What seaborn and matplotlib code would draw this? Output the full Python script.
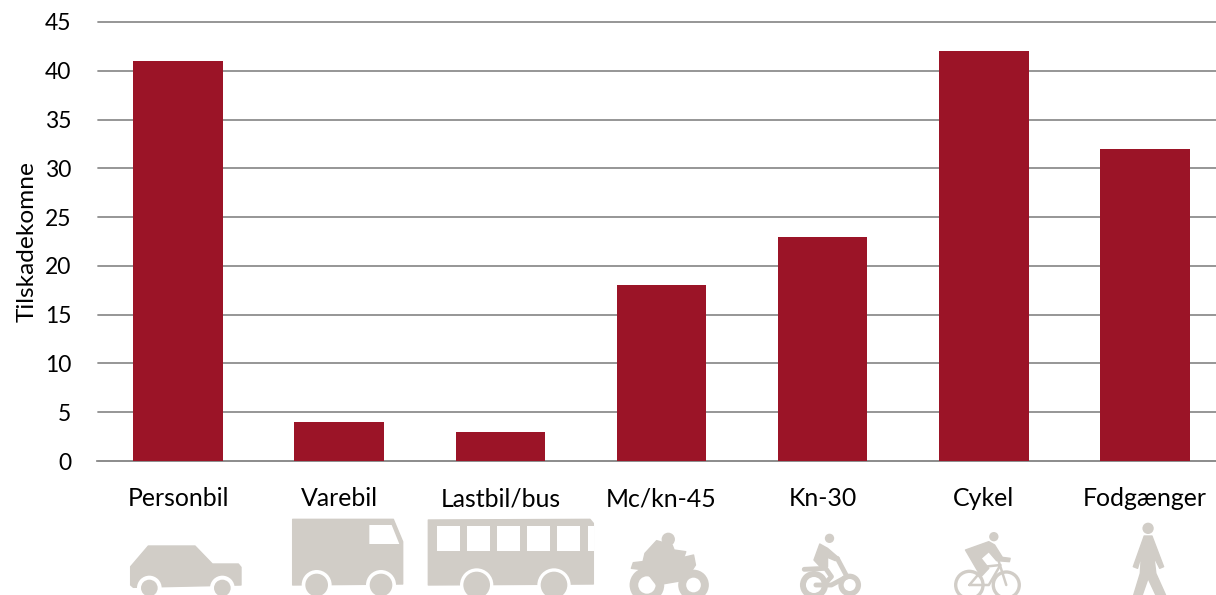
import matplotlib
matplotlib.use("Agg")
import matplotlib.pyplot as plt
from matplotlib.patches import Polygon, Circle
import pandas as pd
import seaborn as sns

categories = ["Personbil", "Varebil", "Lastbil/bus", "Mc/kn-45", "Kn-30", "Cykel", "Fodgænger"]
values = [41, 4, 3, 18, 23, 42, 32]
yticks = list(range(0, 50, 5))
ylabel = "Tilskadekomne"
BAR = "#9B1427"
GRID = "#8E8E8E"
ICON = "#D1CDC7"
W, H = 1216, 595

sns.set_theme(style="white")
plt.rcParams["font.family"] = ["Lato", "DejaVu Sans"]

fig = plt.figure(figsize=(W / 100, H / 100), dpi=100, facecolor="white")
ax = fig.add_axes([97.5 / W, 1 - 461 / H, 1128 / W, 439 / H])
df = pd.DataFrame({"cat": categories, "val": values})
sns.barplot(data=df, x="cat", y="val", color=BAR, saturation=1, width=0.556, ax=ax, zorder=3, linewidth=0)
ax.set_xlim(-0.5, 6.5)
ax.set_ylim(0, 45)
ax.set_yticks(yticks)
ax.set_xlabel("")
ax.set_ylabel(ylabel, fontsize=17.6, color="black", labelpad=5)
ax.yaxis.grid(True, color=GRID, lw=1.3, zorder=0, clip_on=False)
ax.xaxis.grid(False)
ax.set_axisbelow(True)
for s in ["top", "right", "left"]:
    ax.spines[s].set_visible(False)
ax.spines["bottom"].set_color(GRID)
ax.spines["bottom"].set_linewidth(1.3)
ax.tick_params(axis="y", length=0, labelsize=16.5, pad=19, labelcolor="black")
ax.tick_params(axis="x", length=0, labelsize=17.9, pad=19, labelcolor="black")

# Decorative pictograms beneath the axis, on an overlay in pixel space
ov = fig.add_axes([0, 0, 1, 1], zorder=5)
ov.set_xlim(0, W)
ov.set_ylim(H, 0)
ov.axis("off")
ov.patch.set_alpha(0)

O1 = (100, 470, 3.0, 3.0)
O2 = (610, 470, 2.574, 3.0)


def pt(o, p):
    return (o[0] + p[0] / o[2], o[1] + p[1] / o[3])


def poly(o, pts, color=ICON, lw=0):
    ov.add_patch(Polygon([pt(o, p) for p in pts], closed=True, fc=color, ec=color, lw=lw, joinstyle="round"))


def circ(o, c, r, color=ICON):
    ov.add_patch(Circle(pt(o, c), r / 3, fc=color, ec="none"))


def wheel(o, c, r, ring):
    circ(o, c, ring, "white")
    circ(o, c, r)


def ringw(o, c, r, hole):
    circ(o, c, r)
    circ(o, c, hole, "white")


def thick(o, pts, lw):
    x, y = zip(*[pt(o, p) for p in pts])
    ov.plot(x, y, color=ICON, lw=lw, solid_capstyle="round", solid_joinstyle="round")


# car
poly(O1, [(92, 290), (145, 228), (285, 228), (337, 282), (415, 282), (423, 292), (423, 345), (100, 352), (92, 345)], lw=1)
wheel(O1, (148, 354), 25, 37)
wheel(O1, (367, 354), 25, 37)
# van
poly(O1, [(578, 148), (880, 148), (908, 215), (908, 342), (578, 345)], lw=1)
poly(O1, [(808, 165), (875, 165), (898, 222), (808, 222)], "white")
wheel(O1, (650, 345), 34, 45)
wheel(O1, (843, 345), 34, 45)
# bus
poly(O1, [(985, 150), (1470, 148), (1480, 160), (1480, 342), (985, 345)], lw=1)
for a, b in [(1010, 1080), (1100, 1170), (1190, 1260), (1280, 1350), (1370, 1440), (1465, 1482)]:
    poly(O1, [(a, 168), (b, 168), (b, 242), (a, 242)], "white")
wheel(O1, (1130, 345), 40, 50)
wheel(O1, (1362, 345), 40, 50)

# motorcycle
ringw(O2, (95, 345), 52, 26)
ringw(O2, (215, 345), 46, 22)
poly(O2, [(60, 278), (120, 270), (190, 262), (215, 255), (220, 285), (195, 330), (120, 345), (90, 300), (55, 295)], lw=1)
poly(O2, [(90, 250), (120, 212), (160, 225), (165, 240), (195, 245), (190, 262), (140, 268), (125, 290), (85, 275)], lw=1)
circ(O2, (150, 208), 20)
# moped
ringw(O2, (525, 345), 42, 24)
ringw(O2, (617, 345), 34, 18)
circ(O2, (565, 205), 14)
poly(O2, [(540, 222), (560, 235), (590, 265), (580, 272), (560, 262), (560, 290), (545, 295), (525, 270)], lw=1)
thick(O2, [(500, 298), (555, 295), (570, 320), (550, 345)], 3.5)
thick(O2, [(585, 265), (610, 320), (570, 345), (530, 345)], 3.5)
# bicycle
ringw(O2, (925, 345), 46, 36)
ringw(O2, (1020, 345), 44, 34)
circ(O2, (988, 200), 14)
poly(O2, [(915, 240), (975, 215), (990, 225), (1010, 262), (1030, 265), (1028, 275), (995, 272), (975, 245), (955, 265), (975, 295), (955, 320), (930, 270)], lw=1)
thick(O2, [(925, 345), (965, 290), (1005, 285), (975, 345), (925, 345)], 1.8)
thick(O2, [(1000, 272), (1020, 345)], 1.8)
# pedestrian
circ(O2, (1385, 175), 17)
poly(O2, [(1375, 198), (1395, 198), (1425, 290), (1415, 295), (1400, 260), (1405, 310), (1430, 375), (1405, 375), (1385, 325), (1370, 375), (1348, 375), (1365, 310), (1368, 255), (1358, 295), (1347, 290)], lw=1)

fig.savefig("out.png", dpi=100, facecolor="white")
